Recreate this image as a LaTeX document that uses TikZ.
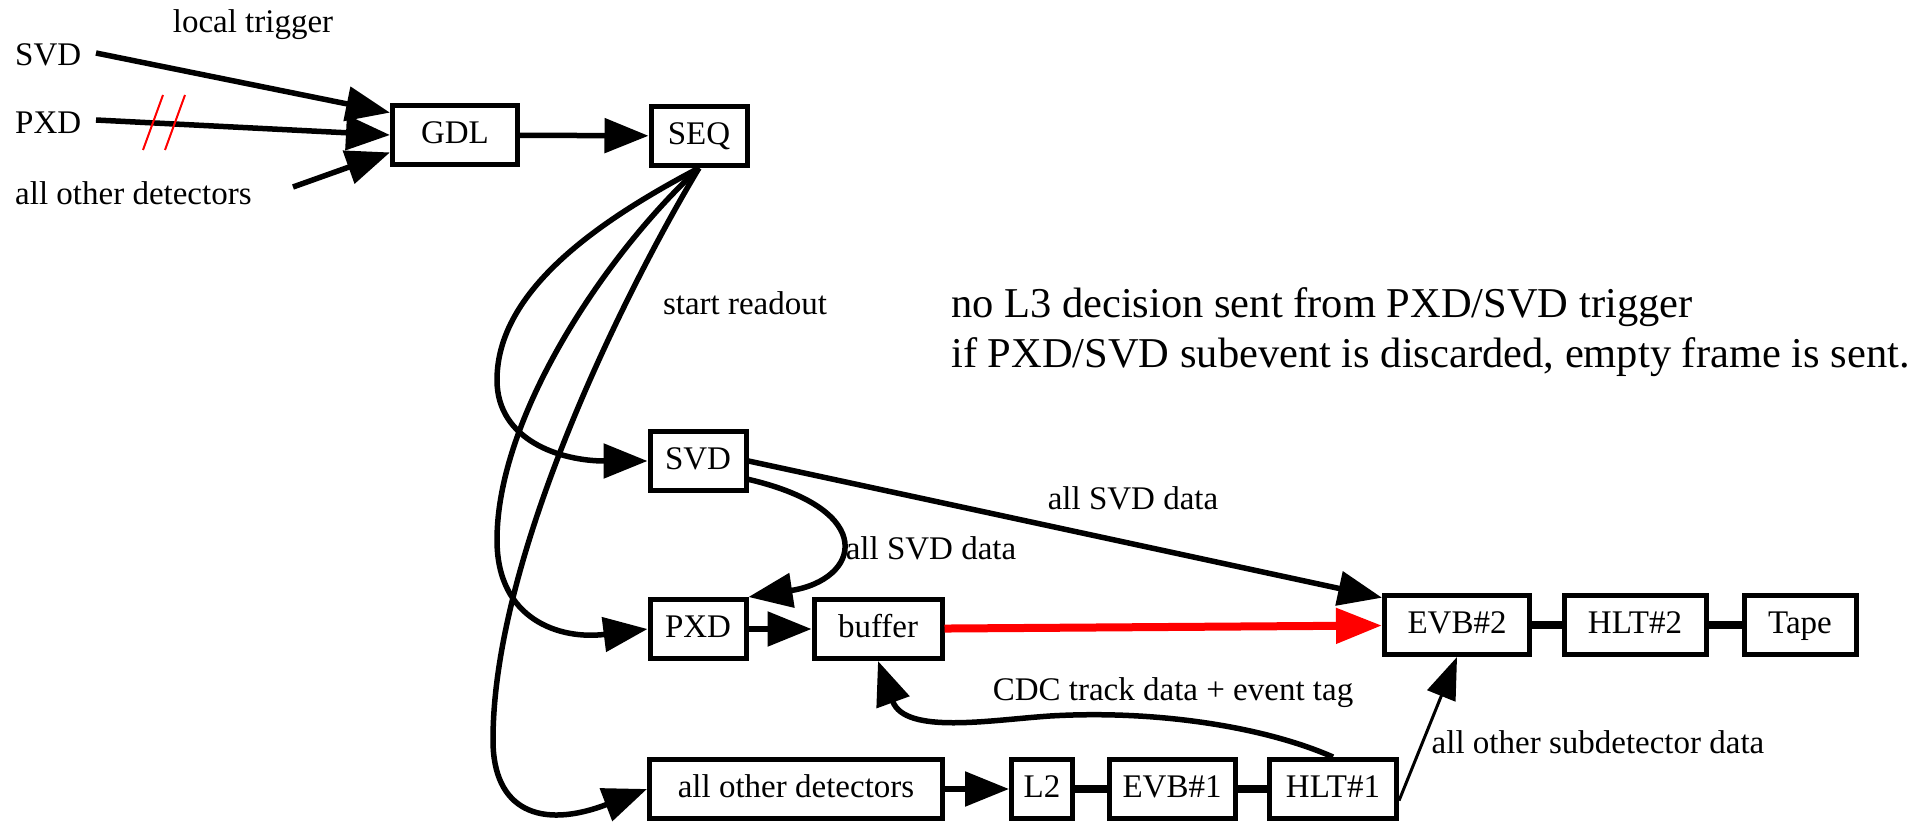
\documentclass[tikz,border=0pt]{standalone}
\usepackage{fontspec}
\setmainfont{Liberation Serif}
\usetikzlibrary{arrows.meta}
\begin{document}
\begin{tikzpicture}[x=1pt,y=-1pt,
  every node/.style={font=\fontsize{33}{40}\selectfont},
  box/.style={draw, line width=5pt, minimum height=59pt, inner sep=0pt, text height=22pt, text depth=6pt},
  lbl/.style={inner sep=0pt},
  note/.style={inner sep=0pt, anchor=base west, font=\fontsize{42.5}{50}\selectfont},
  edge/.style={line width=5.5pt, -{Triangle[length=44pt,width=34pt]}},
  thinedge/.style={line width=3pt, -{Triangle[length=42pt,width=30pt]}},
  redge/.style={line width=8pt, red, -{Triangle[length=46pt,width=34pt]}},
  link/.style={line width=8pt},
  slash/.style={red, line width=2pt}
]
\useasboundingbox (0,0) rectangle (1924,824);

% boxes
\node[box, minimum width=125pt] (gdl) at (455,135) {GDL};
\node[box, minimum width=96pt] (seq) at (699,136) {SEQ};
\node[box, minimum width=96pt] (svd) at (698,461) {SVD};
\node[box, minimum width=96pt] (pxd) at (698,629) {PXD};
\node[box, minimum width=128pt] (buffer) at (878,629) {buffer};
\node[box, minimum width=145pt] (evb2) at (1457,625) {EVB\#2};
\node[box, minimum width=142pt] (hlt2) at (1635,625) {HLT\#2};
\node[box, minimum width=112pt] (tape) at (1800,625) {Tape};
\node[box, minimum width=293pt] (aod) at (796,789) {all other detectors};
\node[box, minimum width=61pt] (l2) at (1042,789) {L2};
\node[box, minimum width=126pt] (evb1) at (1172,789) {EVB\#1};
\node[box, minimum width=127pt] (hlt1) at (1333,789) {HLT\#1};

% left labels
\node[lbl, anchor=west] (svdl) at (15,55) {SVD};
\node[lbl, anchor=west] (pxdl) at (15,123) {PXD};
\node[lbl, anchor=west] (aodl) at (15,193) {all other detectors};
\coordinate (svds) at (96,53);
\coordinate (pxds) at (96,120);
\coordinate (aods) at (293,187);

% texts
\node[lbl] (lt) at (253,25) {local trigger};
\node[lbl] (sr) at (745,303) {start readout};
\node[lbl] (asd1) at (1133,498) {all SVD data};
\node[lbl] (asd2) at (931,548) {all SVD data};
\node[lbl] (cdc) at (1173,693) {CDC track data + event tag};
\node[lbl] (aosd) at (1598,742) {all other subdetector data};
\node[note] (n1) at (951,317) {no L3 decision sent from PXD/SVD trigger};
\node[note] (n2) at (951,367) {if PXD/SVD subevent is discarded, empty frame is sent.};

% top-left arrows
\draw[edge] (svds) -- (gdl.161);
\draw[edge] (pxds) -- (gdl.west);
\draw[edge] (aods) -- (gdl.195);
\draw[slash] (143,150) -- (163,95);
\draw[slash] (165,150) -- (185,95);
\draw[edge] (gdl) -- (seq);

% SEQ fan-out
\draw[edge] (seq.south) .. controls (600,220) and (497,290) .. (497,380)
  .. controls (497,440) and (560,461) .. (svd.west);
\draw[edge] (seq.south) .. controls (600,260) and (497,420) .. (497,540)
  .. controls (497,620) and (560,640) .. (pxd.west);
\draw[edge] (seq.south) .. controls (620,300) and (493,560) .. (493,740)
  .. controls (493,810) and (540,830) .. (aod.west);

% SVD outputs
\draw[edge] (svd.east) -- (evb2.160);
\draw[edge] (svd.-20) .. controls (880,510) and (860,580) .. (pxd.north east);
\draw[edge] (pxd) -- (buffer);
\draw[redge] (buffer) -- (evb2);
\draw[link] (evb2) -- (hlt2);
\draw[link] (hlt2) -- (tape);

% bottom row
\draw[edge] (aod) -- (l2);
\draw[link] (l2) -- (evb1);
\draw[link] (evb1) -- (hlt1);
\draw[edge] (hlt1.north) .. controls (1260,725) and (1150,710) .. (1050,716)
  .. controls (990,720) and (905,735) .. (buffer.south);
\draw[thinedge] (hlt1.-10) -- (evb2.south);
\end{tikzpicture}
\end{document}
